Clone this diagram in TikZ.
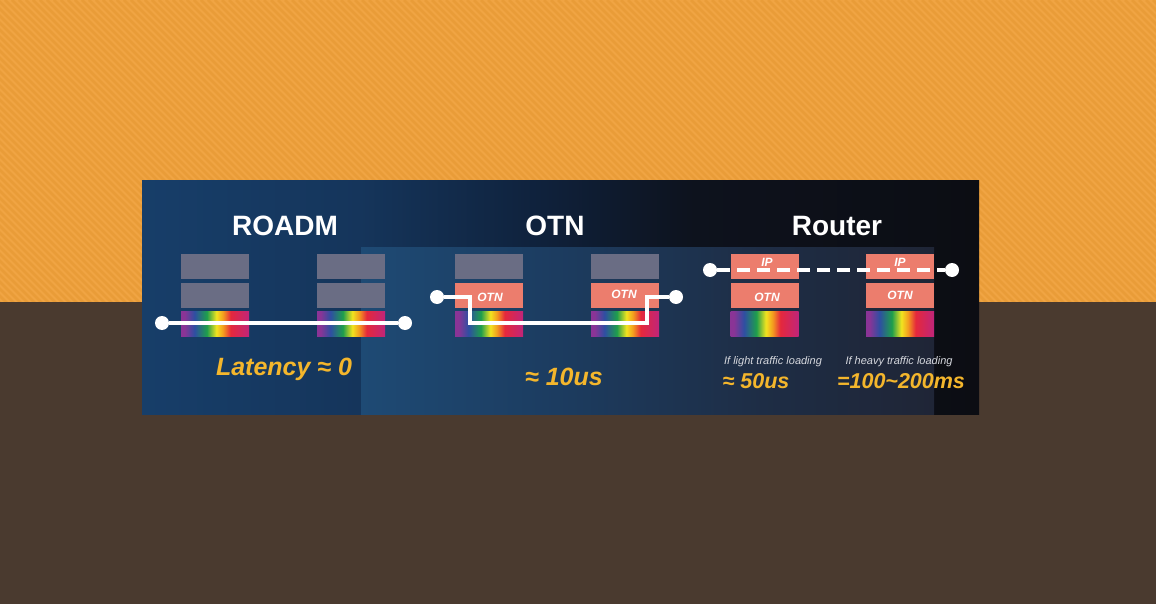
\documentclass[tikz,border=0pt]{standalone}
\usepackage{fontspec}
\setmainfont{Liberation Sans}
\definecolor{bgOrange}{HTML}{F0A443}
\definecolor{stripeOrange}{HTML}{E99C38}
\definecolor{bgBrown}{HTML}{4A3A2F}
\definecolor{boxGray}{HTML}{6A6D84}
\definecolor{salmon}{HTML}{EC7D6D}
\definecolor{latYellow}{HTML}{F4B62C}
\definecolor{noteGray}{HTML}{D6D8DE}
\definecolor{pA}{HTML}{173E69}
\definecolor{pB}{HTML}{15355B}
\definecolor{pC}{HTML}{0F213B}
\definecolor{pD}{HTML}{0D121D}
\definecolor{pE}{HTML}{0C0D13}
\definecolor{iA}{HTML}{1E4A74}
\definecolor{iB}{HTML}{1C3C60}
\definecolor{iC}{HTML}{1E2D45}
\definecolor{iD}{HTML}{1F2536}
\definecolor{rbA}{HTML}{8A3496}
\definecolor{rbB}{HTML}{2E4FA2}
\definecolor{rbC}{HTML}{1E9E4C}
\definecolor{rbD}{HTML}{F2E41F}
\definecolor{rbE}{HTML}{F39A1F}
\definecolor{rbF}{HTML}{E5283C}
\definecolor{rbG}{HTML}{C0257A}
\pgfdeclarehorizontalshading{rainbow}{100bp}{color(0bp)=(rbA); color(25bp)=(rbA); color(27.5bp)=(rbA); color(35bp)=(rbB); color(44bp)=(rbC); color(51bp)=(rbD); color(56bp)=(rbE); color(61.5bp)=(rbF); color(75bp)=(rbG); color(100bp)=(rbG)}
\pgfdeclarehorizontalshading{panelshade}{100bp}{color(0bp)=(pA); color(25bp)=(pA); color(38bp)=(pB); color(49bp)=(pC); color(58bp)=(pD); color(75bp)=(pE); color(100bp)=(pE)}
\pgfdeclarehorizontalshading{innershade}{100bp}{color(0bp)=(iA); color(25bp)=(iA); color(42bp)=(iB); color(60bp)=(iC); color(75bp)=(iD); color(100bp)=(iD)}
\tikzset{
  graybox/.style={fill=boxGray, minimum width=68pt, minimum height=25pt, inner sep=0pt, outer sep=0pt},
  redbox/.style={graybox, fill=salmon},
  boxtext/.style={font=\bfseries\itshape\fontsize{12}{12}\selectfont, text=white, inner sep=0pt},
  rainbowbox/.style={minimum width=68pt, minimum height=25pt, inner sep=0pt, outer sep=0pt, shading=rainbow},
  dot/.style={circle, fill=white, minimum size=14pt, inner sep=0pt, outer sep=0pt},
  link/.style={white, line width=3.2pt},
  dashlink/.style={white, line width=3.2pt, dash pattern=on 12.5pt off 7.5pt},
  title/.style={font=\bfseries\fontsize{28}{28}\selectfont, text=white, inner sep=0pt},
  latency/.style={font=\bfseries\itshape\fontsize{25}{25}\selectfont, text=latYellow, inner sep=0pt},
  smalllat/.style={font=\bfseries\itshape\fontsize{21.5}{21.5}\selectfont, text=latYellow, inner sep=0pt},
  note/.style={font=\itshape\fontsize{11}{11}\selectfont, text=noteGray, inner sep=0pt},
  stripe/.style={stripeOrange, line width=2.6pt}
}
\begin{document}
\begin{tikzpicture}[x=1pt,y=-1pt]
\useasboundingbox (0,0) rectangle (1156,604);
% background
\fill[bgOrange] (0,0) rectangle (1156,302);
\begin{scope}
  \clip (0,0) rectangle (1156,302);
  \foreach \i in {-310,-303,...,1160} \draw[stripe] (\i,0) -- ++(310,310);
\end{scope}
\fill[bgBrown] (0,302) rectangle (1156,604);
% panel
\shade[shading=panelshade] (142,181) rectangle (979,414);
\shade[shading=innershade] (361,247) rectangle (934,414);
% titles
\node[title] (tRoadm) at (285,226) {ROADM};
\node[title] (tOtn) at (555,226) {OTN};
\node[title] (tRouter) at (837,226) {Router};
% ROADM stacks
\node[graybox] (r1a) at (215,266.5) {};
\node[graybox] (r1b) at (215,295.5) {};
\node[rainbowbox] (r1c) at (215,323.5) {};
\node[graybox] (r2a) at (351,266.5) {};
\node[graybox] (r2b) at (351,295.5) {};
\node[rainbowbox] (r2c) at (351,323.5) {};
\node[dot] (rd1) at (162,323) {};
\node[dot] (rd2) at (405,323) {};
\draw[link] (rd1) -- (rd2);
% OTN stacks
\node[graybox] (o1a) at (489,266.5) {};
\node[redbox] (o1b) at (489,295.5) {};
\node[boxtext] (o1t) at (490,297) {OTN};
\node[rainbowbox] (o1c) at (489,323.5) {};
\node[graybox] (o2a) at (625,266.5) {};
\node[redbox] (o2b) at (625,295.5) {};
\node[boxtext] (o2t) at (624,294) {OTN};
\node[rainbowbox] (o2c) at (625,323.5) {};
\node[dot] (od1) at (437,297) {};
\node[dot] (od2) at (676,297) {};
\draw[link, line join=miter] (od1) -- (470,297) -- (470,323) -- (647,323) -- (647,297) -- (od2);
% Router stacks
\node[redbox] (p1a) at (764.5,266.5) {};
\node[boxtext] (p1t) at (767,262) {IP};
\node[redbox] (p1b) at (764.5,295.5) {};
\node[boxtext] (p1u) at (767,297) {OTN};
\node[rainbowbox] (p1c) at (764.5,323.5) {};
\node[redbox] (p2a) at (900,266.5) {};
\node[boxtext] (p2t) at (900,262) {IP};
\node[redbox] (p2b) at (900,295.5) {};
\node[boxtext] (p2u) at (900,295) {OTN};
\node[rainbowbox] (p2c) at (900,323.5) {};
\node[dot] (pd1) at (710,270) {};
\node[dot] (pd2) at (952,270) {};
\draw[dashlink] (pd1) -- (pd2);
% latency labels
\node[latency] (l1) at (284,369) {Latency ≈ 0};
\node[latency] (l2) at (564,377) {≈ 10us};
\node[note] (n1) at (773,362) {If light traffic loading};
\node[smalllat] (l3) at (756,381) {≈ 50us};
\node[note] (n2) at (899,362) {If heavy traffic loading};
\node[smalllat] (l4) at (901,381) {=100\textasciitilde 200ms};
\end{tikzpicture}
\end{document}
